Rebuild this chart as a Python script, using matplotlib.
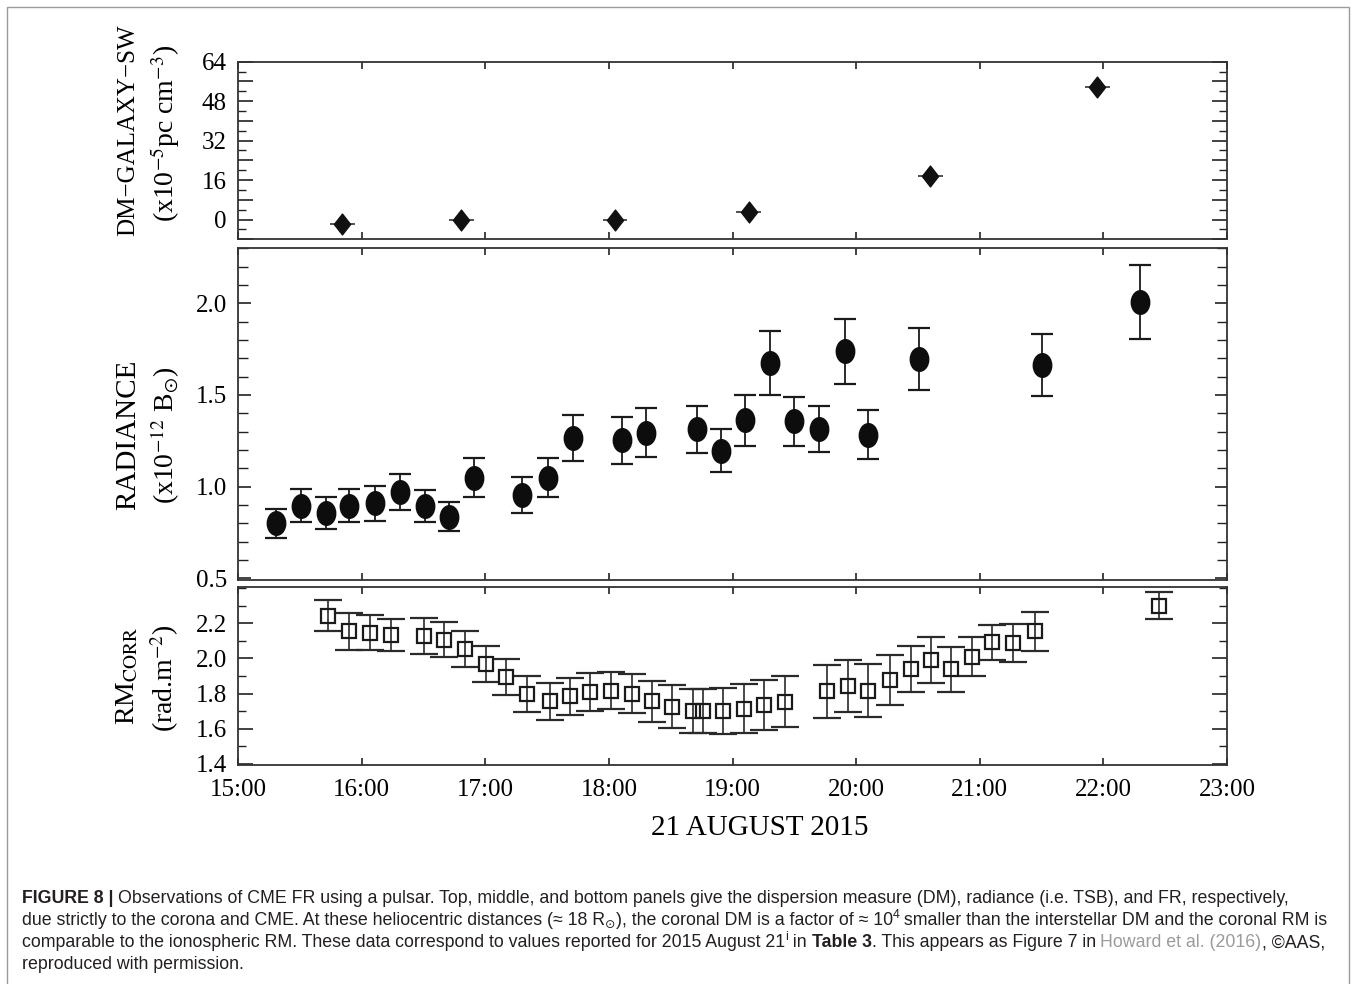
import matplotlib
matplotlib.use("Agg")
import matplotlib.pyplot as plt
from matplotlib.path import Path
from matplotlib.patches import Rectangle
from matplotlib.ticker import MultipleLocator, FixedLocator, FuncFormatter, FormatStrFormatter

# ---------------- data (hours of 21 August 2015) ----------------
X_TICKS = [15, 16, 17, 18, 19, 20, 21, 22, 23]
X_TICK_LABELS = ["15:00", "16:00", "17:00", "18:00", "19:00", "20:00", "21:00", "22:00", "23:00"]

DM_TIME = [15.843, 16.805, 18.05, 19.13, 20.60, 21.95]
DM_VAL = [-2.0, 0.0, 0.0, 3.0, 17.5, 53.6]
DM_XERR = [0.1, 0.1, 0.1, 0.1, 0.1, 0.1]

RAD_TIME = [15.31, 15.51, 15.71, 15.90, 16.11, 16.31, 16.51, 16.71, 16.91, 17.30,
            17.51, 17.71, 18.11, 18.30, 18.71, 18.91, 19.10, 19.30, 19.50, 19.70,
            19.91, 20.10, 20.51, 21.50, 22.30]
RAD_VAL = [0.800, 0.895, 0.855, 0.895, 0.908, 0.970, 0.893, 0.835, 1.047, 0.955,
           1.047, 1.265, 1.252, 1.294, 1.312, 1.196, 1.361, 1.675, 1.356, 1.314,
           1.737, 1.283, 1.697, 1.662, 2.009]
RAD_ERR = [0.079, 0.090, 0.086, 0.091, 0.094, 0.098, 0.087, 0.078, 0.106, 0.099,
           0.106, 0.127, 0.127, 0.134, 0.127, 0.118, 0.138, 0.174, 0.134, 0.127,
           0.176, 0.132, 0.170, 0.169, 0.202]

RM_TIME = [15.731, 15.900, 16.068, 16.234, 16.503, 16.668, 16.837, 17.005, 17.171, 17.340,
           17.524, 17.684, 17.846, 18.014, 18.184, 18.351, 18.514, 18.678, 18.759, 18.922,
           19.089, 19.257, 19.427, 19.765, 19.935, 20.097, 20.270, 20.441, 20.603, 20.770,
           20.938, 21.100, 21.270, 21.446, 22.446]
RM_VAL = [2.243, 2.153, 2.145, 2.133, 2.125, 2.107, 2.051, 1.966, 1.894, 1.796,
          1.757, 1.783, 1.808, 1.816, 1.800, 1.756, 1.724, 1.701, 1.701, 1.700,
          1.713, 1.735, 1.752, 1.812, 1.845, 1.817, 1.878, 1.938, 1.990, 1.938,
          2.010, 2.092, 2.085, 2.154, 2.300]
RM_ERR = [0.090, 0.108, 0.100, 0.093, 0.102, 0.098, 0.102, 0.103, 0.102, 0.103,
          0.105, 0.107, 0.108, 0.107, 0.110, 0.118, 0.122, 0.127, 0.127, 0.129,
          0.140, 0.144, 0.145, 0.153, 0.148, 0.151, 0.144, 0.132, 0.131, 0.128,
          0.110, 0.100, 0.108, 0.110, 0.075]

# ---------------- figure ----------------
plt.rcParams["font.family"] = ["Liberation Serif", "DejaVu Serif"]
plt.rcParams["mathtext.fontset"] = "stix"

W, H = 1356, 984
fig = plt.figure(figsize=(W / 100, H / 100), dpi=100)
fig.patch.set_facecolor("white")


def rect(l, t, r, b):
    return [l / W, 1 - b / H, (r - l) / W, (b - t) / H]


ax1 = fig.add_axes(rect(238, 61.7, 1227, 239.3))
ax2 = fig.add_axes(rect(238, 248.3, 1227, 580))
ax3 = fig.add_axes(rect(238, 586.7, 1227, 765))

for ax in (ax1, ax2, ax3):
    ax.set_xlim(15, 23)
    ax.xaxis.set_major_locator(FixedLocator(X_TICKS))
    ax.tick_params(which="both", direction="in", top=True, right=True,
                   color="#222222", labelsize=18, pad=8)
    ax.tick_params(axis="x", which="major", length=5, width=1.2)
    ax.tick_params(axis="x", which="minor", bottom=False, top=False)
    for s in ax.spines.values():
        s.set_linewidth(1.3)
        s.set_color("#333333")
    ax.tick_params(axis="x", labelbottom=False)

# top panel
ax1.set_ylim(-8, 64)
ax1.yaxis.set_major_locator(MultipleLocator(8))
ax1.yaxis.set_minor_locator(MultipleLocator(4))
ax1.yaxis.set_major_formatter(FuncFormatter(lambda v, p: f"{int(round(v))}" if int(round(v)) % 16 == 0 else ""))
ax1.tick_params(axis="y", which="major", length=11, width=1.2)
ax1.tick_params(axis="y", which="minor", length=6, width=1.0)
diamond = Path([(0, 1), (0.78, 0), (0, -1), (-0.78, 0), (0, 1)],
               [Path.MOVETO, Path.LINETO, Path.LINETO, Path.LINETO, Path.CLOSEPOLY])
ax1.errorbar(DM_TIME, DM_VAL, xerr=DM_XERR, fmt="none", ecolor="#333333",
             elinewidth=1.2, capsize=0)
ax1.plot(DM_TIME, DM_VAL, ls="none", marker=diamond, ms=15, color="#111111")

# middle panel
ax2.set_ylim(0.49, 2.3)
ax2.yaxis.set_major_locator(FixedLocator([0.5, 1.0, 1.5, 2.0]))
ax2.yaxis.set_major_formatter(FormatStrFormatter("%.1f"))
ax2.yaxis.set_minor_locator(MultipleLocator(0.1))
ax2.tick_params(axis="y", which="major", length=9, width=1.2)
ax2.tick_params(axis="y", which="minor", length=7, width=1.0)
c = Path.unit_circle()
ellipse = Path(c.vertices * [0.78, 1.0], c.codes)
ax2.errorbar(RAD_TIME, RAD_VAL, yerr=RAD_ERR, fmt="none", ecolor="#1a1a1a",
             elinewidth=1.3, capsize=8, capthick=1.6)
ax2.plot(RAD_TIME, RAD_VAL, ls="none", marker=ellipse, ms=17, color="#0d0d0d")

# bottom panel
ax3.set_ylim(1.393, 2.408)
ax3.yaxis.set_major_locator(FixedLocator([1.4, 1.6, 1.8, 2.0, 2.2]))
ax3.yaxis.set_major_formatter(FormatStrFormatter("%.1f"))
ax3.yaxis.set_minor_locator(MultipleLocator(0.1))
ax3.tick_params(axis="y", which="major", length=11, width=1.2)
ax3.tick_params(axis="y", which="minor", length=6, width=1.0)
ax3.errorbar(RM_TIME, RM_VAL, yerr=RM_ERR, fmt="s", ms=10, mfc="none", mec="#1a1a1a",
             mew=1.6, ecolor="#2a2a2a", elinewidth=1.2, capsize=10, capthick=1.4)
ax3.tick_params(axis="x", labelbottom=True, pad=10)
ax3.set_xticklabels(X_TICK_LABELS)

# axis titles
fig.text(760 / W, 1 - 828 / H, "21 AUGUST 2015", ha="center", va="center", fontsize=21)
ylab = dict(rotation=90, ha="center", va="center", fontsize=20)
fig.text(128 / W, 1 - 130 / H, "DM\u2212GALAXY\u2212SW", **dict(ylab, fontsize=18))
fig.text(165 / W, 1 - 133 / H, r"(x10$^{-5}$pc cm$^{-3}$)", **ylab)
fig.text(128 / W, 1 - 435 / H, "RADIANCE", **dict(ylab, fontsize=21))
fig.text(165 / W, 1 - 435 / H, r"(x10$^{-12}$ B$_{\odot}$)", **ylab)
fig.text(128 / W, 1 - 676 / H, r"RM$_{\mathrm{CORR}}$", **ylab)
fig.text(165 / W, 1 - 678 / H, r"(rad.m$^{-2}$)", **ylab)

# frame
fig.add_artist(Rectangle((7 / W, -0.02), (1349 - 7) / W, 1 - 7 / H + 0.02,
                         transform=fig.transFigure, fill=False, ec="#9a9a9a", lw=1.0))

# ---------------- caption ----------------
renderer = fig.canvas.get_renderer()
CAP_FAMILY = ["Liberation Sans", "DejaVu Sans"]
CAP_COLOR = "#231f20"


def measure(s, size, weight):
    t1 = fig.text(0, 0, "|" + s + "|", fontsize=size, family=CAP_FAMILY, weight=weight)
    t2 = fig.text(0, 0, "||", fontsize=size, family=CAP_FAMILY, weight=weight)
    w = t1.get_window_extent(renderer).width - t2.get_window_extent(renderer).width
    t1.remove()
    t2.remove()
    return w


def runs_width(runs, size):
    tot = 0
    for s, style in runs:
        fs = size * (0.7 if style in ("sup", "sub") else 1.0)
        tot += measure(s, fs, "bold" if style == "bold" else "normal")
    return tot


def draw_runs(runs, x0, ybase, size):
    x = x0
    for s, style in runs:
        fs = size
        dy = 0
        color = CAP_COLOR
        weight = "normal"
        if style == "sup":
            fs = size * 0.7
            dy = size * 1.389 * 0.42
        elif style == "sub":
            fs = size * 0.7
            dy = -size * 1.389 * 0.18
        elif style == "bold":
            weight = "bold"
        elif style == "link":
            color = "#9b9b9b"
        fig.text(x / W, 1 - (ybase - dy) / H, s, fontsize=fs, family=CAP_FAMILY,
                 weight=weight, color=color, ha="left", va="baseline")
        x += measure(s, fs, weight)


L1 = [("FIGURE 8 | ", "bold"),
      ("Observations of CME FR using a pulsar. Top, middle, and bottom panels give the "
       "dispersion measure (DM), radiance (i.e. TSB), and FR, respectively,", "n")]
L2 = [("due strictly to the corona and CME. At these heliocentric distances (\u2248 18 R", "n"),
      ("\u2299", "sub"),
      ("), the coronal DM is a factor of \u2248 10", "n"),
      ("4", "sup"),
      (" smaller than the interstellar DM and the coronal RM is", "n")]
L3 = [("comparable to the ionospheric RM. These data correspond to values reported for "
       "2015 August 21", "n"),
      ("i", "sup"),
      (" in ", "n"),
      ("Table 3", "bold"),
      (". This appears as Figure 7 in ", "n"),
      ("Howard et al. (2016)", "link"),
      (", \u00a9AAS,", "n")]
L4 = [("reproduced with permission.", "n")]

base = 12.0
w1 = runs_width(L1, base)
cap_size = base * (1293 - 22) / w1

for runs, yb in ((L1, 903), (L2, 925), (L3, 947), (L4, 969)):
    draw_runs(runs, 22, yb, cap_size)

fig.savefig("out.png", dpi=100, facecolor="white")
